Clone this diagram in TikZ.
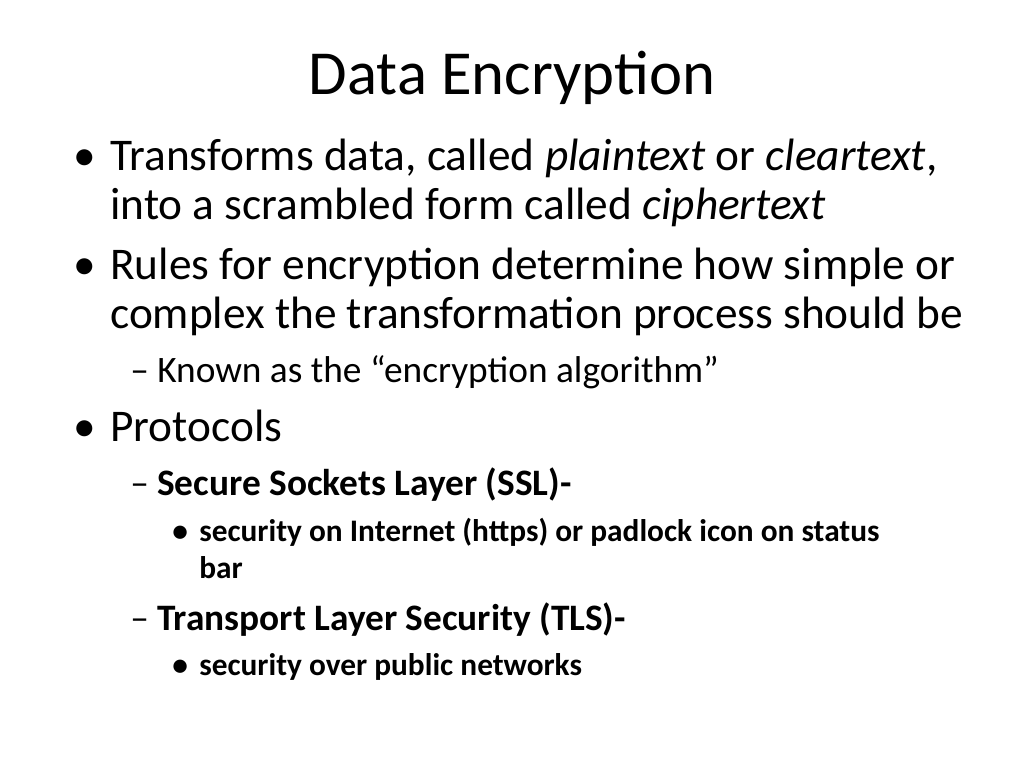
\documentclass[tikz,border=0pt]{standalone}
\usepackage{fontspec}
\setmainfont{Carlito}
\usetikzlibrary{positioning}

\tikzset{
  lvlone/.style={anchor=base west, inner sep=0pt, font=\fontsize{34}{38}\selectfont},
  lvltwo/.style={anchor=base west, inner sep=0pt, font=\fontsize{28}{32}\selectfont},
  lvlthree/.style={anchor=base west, inner sep=0pt, font=\fontsize{23.5}{27}\selectfont\bfseries},
  mark1/.style={anchor=base west, inner sep=0pt, font=\fontsize{34}{38}\selectfont},
}

\begin{document}
\begin{tikzpicture}[x=0.75pt, y=-0.75pt]
\useasboundingbox (0,0) rectangle (1024,768);

% Title
\node[anchor=base, inner sep=0pt, font=\fontsize{47}{52}\selectfont] (title) at (512,94) {Data Encryption};

% First bullet
\node[mark1] (b1) at (73,170) {\textbullet};
\node[lvlone] (t1a) at (110,170) {Transforms data, called \textit{plaintext} or \textit{cleartext},};
\node[lvlone] (t1b) at (110,219) {into a scrambled form called \textit{ciphertext}};

% Second bullet
\node[mark1] (b2) at (73,279) {\textbullet};
\node[lvlone] (t2a) at (110,279) {Rules for encryption determine how simple or};
\node[lvlone] (t2b) at (110,328) {complex the transformation process should be};
\node[lvltwo] (t2c) at (130,382) {\textendash\ Known as the \textquotedblleft encryption algorithm\textquotedblright};

% Third bullet
\node[mark1] (b3) at (73,441) {\textbullet};
\node[lvlone] (t3) at (110,441) {Protocols};
\node[lvltwo] (ssl) at (130,495) {\textendash\ \textbf{Secure Sockets Layer (SSL)-}};
\node[lvlthree] (sslb) at (172,541) {\textbullet};
\node[lvlthree] (ssla) at (199,541) {security on Internet (https) or padlock icon on status};
\node[lvlthree] (sslc) at (199,578) {bar};
\node[lvltwo] (tls) at (130,630) {\textendash\ \textbf{Transport Layer Security (TLS)-}};
\node[lvlthree] (tlsb) at (172,675) {\textbullet};
\node[lvlthree] (tlsa) at (199,675) {security over public networks};
\end{tikzpicture}
\end{document}
